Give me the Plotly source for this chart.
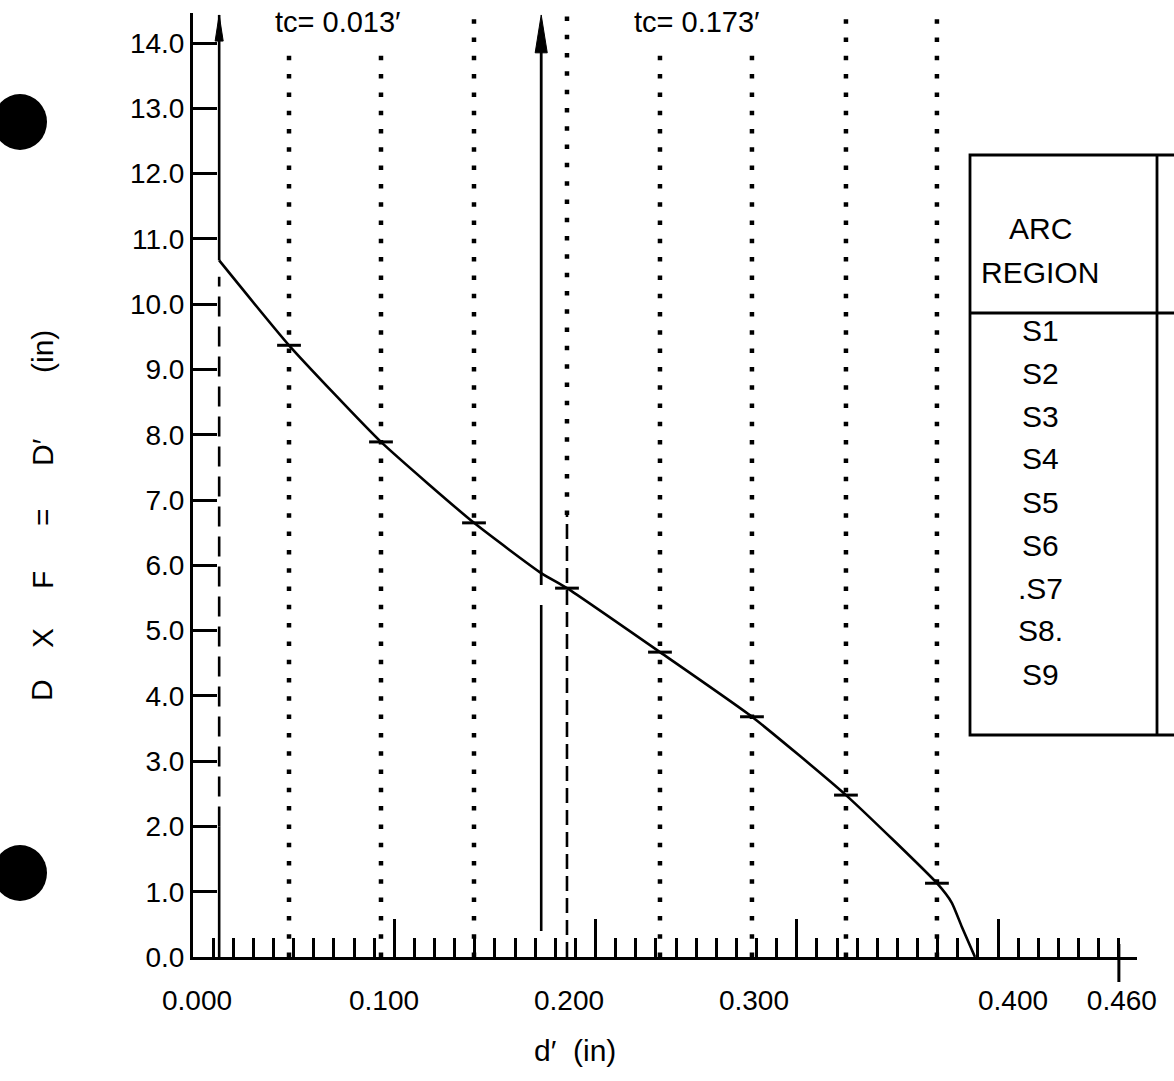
import plotly.graph_objects as go

# ---------------- data ----------------
curve_x = [0.013, 0.0477, 0.0934, 0.1396, 0.173, 0.1858, 0.2320, 0.2777, 0.3244, 0.3696, 0.3770, 0.3820, 0.3885]
curve_y = [10.67, 9.37, 7.89, 6.65, 5.88, 5.65, 4.67, 3.68, 2.48, 1.13, 0.83, 0.46, 0.0]

boundary_x = [0.0477, 0.0934, 0.1396, 0.1858, 0.2320, 0.2777, 0.3244, 0.3696]
boundary_y = [9.37, 7.89, 6.65, 5.65, 4.67, 3.68, 2.48, 1.13]

tc_values = [0.013, 0.173]
tc_curve_y = [10.67, 5.88]
tc_texts = ["tc= 0.013′", "tc= 0.173′"]

x_tick_text = ["0.000", "0.100", "0.200", "0.300", "0.400", "0.460"]
x_tick_pos = [0.002, 0.0949, 0.1868, 0.2787, 0.4074, 0.4615]

y_tick_vals = [0, 1, 2, 3, 4, 5, 6, 7, 8, 9, 10, 11, 12, 13, 14]
y_tick_text = ["0.0", "1.0", "2.0", "3.0", "4.0", "5.0", "6.0", "7.0", "8.0",
               "9.0", "10.0", "11.0", "12.0", "13.0", "14.0"]

table_header = ["ARC", "REGION"]
region_labels = ["S1", "S2", "S3", "S4", "S5", "S6", ".S7", "S8.", "S9"]

y_title_tokens = ["D", "X", "F", "=", "D′", "(in)"]
x_title = "d′\u00a0\u00a0(in)"

# ---------------- layout geometry ----------------
W, H = 1174, 1081
L, R, T, B = 193, 37, 13, 124
X_MAX = 0.469
Y_MAX = 14.46
Y_TOP_LINE = 14.43
FONT = "Liberation Sans"
pw = W - L - R
ph = H - T - B


def px_to_paper_x(px):
    return (px - L) / pw


def px_to_paper_y(py):
    return (H - B - py) / ph


fig = go.Figure()

# main curve
fig.add_trace(go.Scatter(x=curve_x, y=curve_y, mode="lines",
                         line=dict(color="black", width=2.6, shape="spline", smoothing=0.5),
                         hoverinfo="skip", showlegend=False))
# region boundary marks on the curve
fig.add_trace(go.Scatter(x=boundary_x, y=boundary_y, mode="markers",
                         marker=dict(symbol="line-ew", size=17, line=dict(color="black", width=3)),
                         hoverinfo="skip", showlegend=False))
# invisible trace to hold the overlay tick axis
fig.add_trace(go.Scatter(x=[0], y=[0], xaxis="x2", mode="markers",
                         marker=dict(opacity=0), hoverinfo="skip", showlegend=False))

shapes = []
dot_dash = "4.5px,13.8px"
dash_break_y = 6.77
for bx in boundary_x:
    y0 = dash_break_y if bx == boundary_x[3] else 0
    shapes.append(dict(type="line", xref="x", yref="y", x0=bx, x1=bx, y0=y0, y1=Y_TOP_LINE,
                       line=dict(color="black", width=4.5, dash=dot_dash)))
# dashed continuation of the 4th boundary
shapes.append(dict(type="line", xref="x", yref="y", x0=boundary_x[3], x1=boundary_x[3],
                   y0=0, y1=dash_break_y, line=dict(color="black", width=2.6, dash="15px,7px")))

# tc = 0.013 line: solid bottom, dashed middle, solid top with arrow
t1 = tc_values[0]
shapes.append(dict(type="line", xref="x", yref="y", x0=t1, x1=t1, y0=0, y1=2.0,
                   line=dict(color="black", width=2.6)))
shapes.append(dict(type="line", xref="x", yref="y", x0=t1, x1=t1, y0=2.0, y1=tc_curve_y[0] - 0.25,
                   line=dict(color="black", width=2.6, dash="20px,10px")))
shapes.append(dict(type="line", xref="x", yref="y", x0=t1, x1=t1, y0=tc_curve_y[0], y1=Y_TOP_LINE,
                   line=dict(color="black", width=2.6)))
shapes.append(dict(type="path", xref="x", yref="y",
                   path=f"M {t1-0.002},{Y_TOP_LINE-0.4} L {t1},{Y_TOP_LINE} L {t1+0.002},{Y_TOP_LINE-0.4} Z",
                   fillcolor="black", line=dict(color="black", width=1)))

# tc = 0.173 line: solid lower part, solid upper part with arrow
t2 = tc_values[1]
shapes.append(dict(type="line", xref="x", yref="y", x0=t2, x1=t2, y0=0.4, y1=5.39,
                   line=dict(color="black", width=2.6)))
shapes.append(dict(type="line", xref="x", yref="y", x0=t2, x1=t2, y0=5.70, y1=Y_TOP_LINE - 0.3,
                   line=dict(color="black", width=2.8)))
shapes.append(dict(type="path", xref="x", yref="y",
                   path=f"M {t2-0.003},{Y_TOP_LINE-0.58} L {t2},{Y_TOP_LINE} L {t2+0.003},{Y_TOP_LINE-0.58} Z",
                   fillcolor="black", line=dict(color="black", width=1)))

# end "+" mark of the x axis at 0.46
shapes.append(dict(type="line", xref="x", yref="paper", x0=0.46, x1=0.46,
                   y0=px_to_paper_y(982), y1=px_to_paper_y(944),
                   line=dict(color="black", width=3)))

# table on the right
tx0, tx1, txm = px_to_paper_x(970), px_to_paper_x(1215), px_to_paper_x(1157)
ty0, ty1, tyd = px_to_paper_y(735), px_to_paper_y(155), px_to_paper_y(313)
shapes.append(dict(type="rect", xref="paper", yref="paper", x0=tx0, x1=tx1, y0=ty0, y1=ty1,
                   line=dict(color="black", width=2.8)))
shapes.append(dict(type="line", xref="paper", yref="paper", x0=txm, x1=txm, y0=ty0, y1=ty1,
                   line=dict(color="black", width=2.8)))
shapes.append(dict(type="line", xref="paper", yref="paper", x0=tx0, x1=tx1, y0=tyd, y1=tyd,
                   line=dict(color="black", width=2.8)))

# scan punch holes
for cx, cy in [(20, 122), (20, 873)]:
    shapes.append(dict(type="circle", xref="paper", yref="paper",
                       x0=px_to_paper_x(cx - 27), x1=px_to_paper_x(cx + 27),
                       y0=px_to_paper_y(cy + 28), y1=px_to_paper_y(cy - 28),
                       fillcolor="black", line=dict(color="black", width=0)))


def ann(text, px, py, size=27, **kw):
    d = dict(text=text, xref="paper", yref="paper", x=px_to_paper_x(px), y=px_to_paper_y(py),
             xanchor="center", yanchor="middle", showarrow=False,
             font=dict(size=size, family=FONT, color="black"))
    d.update(kw)
    return d


annotations = []
# tc labels
for txt, cxp in zip(tc_texts, [338, 697]):
    annotations.append(ann(txt, cxp, 22, 29, bgcolor="white", borderpad=6))
# table text
for txt, py in zip(table_header, [228, 272]):
    annotations.append(ann(txt, 1040, py, 30))
for i, txt in enumerate(region_labels):
    annotations.append(ann(txt, 1040, 330 + 43 * i, 30))
# y title tokens
for tok, py in zip(y_title_tokens, [690, 638, 580, 517, 452, 352]):
    annotations.append(ann(tok, 42, py, 30, textangle=-90))
# x title
annotations.append(ann(x_title, 575, 1050, 30))

fig.update_layout(
    width=W, height=H,
    margin=dict(l=L, r=R, t=T, b=B, pad=0),
    paper_bgcolor="white", plot_bgcolor="white",
    font=dict(family=FONT, color="black", size=28),
    showlegend=False,
    xaxis=dict(range=[0, X_MAX], showline=True, linewidth=3, linecolor="black",
               tickmode="array", tickvals=x_tick_pos, ticktext=x_tick_text,
               ticks="", showgrid=False, zeroline=False, ticklabelstandoff=16,
               tickfont=dict(size=28, family=FONT, color="black")),
    xaxis2=dict(range=[0, X_MAX], overlaying="x", anchor="y", side="bottom",
                showticklabels=False, showline=False, showgrid=False, zeroline=False,
                ticks="inside", tickmode="linear", tick0=0, dtick=0.1, ticklen=38,
                tickwidth=3, tickcolor="black",
                minor=dict(ticks="inside", tick0=0, dtick=0.01, ticklen=19,
                           tickwidth=3, tickcolor="black", showgrid=False)),
    yaxis=dict(range=[0, Y_MAX], showline=True, linewidth=3, linecolor="black",
               tickmode="array", tickvals=y_tick_vals, ticktext=y_tick_text,
               ticks="inside", ticklen=24, tickwidth=3, tickcolor="black",
               showgrid=False, zeroline=False, ticklabelstandoff=0,
               tickfont=dict(size=28, family=FONT, color="black")),
    shapes=shapes,
    annotations=annotations,
)

fig.write_html("out.html", config={"displayModeBar": False},
               post_script="document.body.style.margin='0';document.body.style.overflow='hidden';")
